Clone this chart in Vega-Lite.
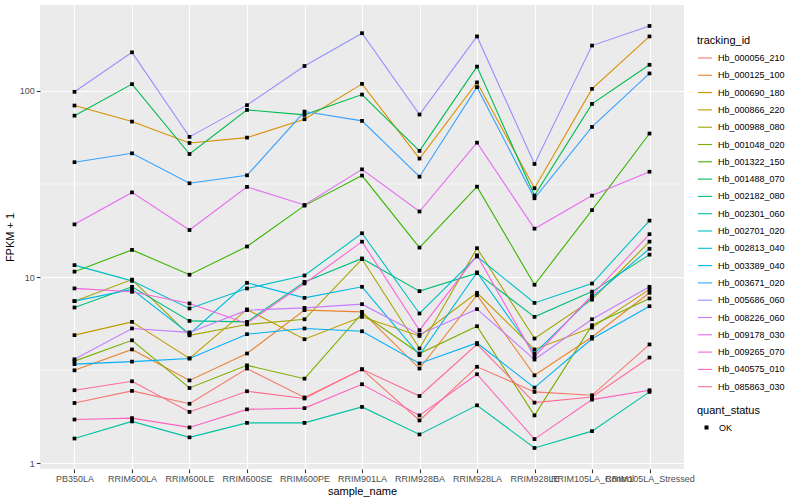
{
"$schema": "https://vega.github.io/schema/vega-lite/v6.json",
"width": 644, "height": 464,
"autosize": {"type": "none"},
"padding": {"left": 40, "top": 5, "right": 116, "bottom": 31},
"background": "white",
"config": {
 "font": "Liberation Sans",
 "view": {"fill": "#EBEBEB", "stroke": null},
 "axis": {"domain": false, "gridColor": "white", "gridWidth": 1.1, "tickColor": "#333333", "tickSize": 3.7, "tickWidth": 1.1, "labelColor": "#4D4D4D", "labelFontSize": 9, "titleFontSize": 11, "titleFontWeight": "normal", "titleColor": "black", "labelPadding": 2},
 "legend": {"titleFontSize": 11, "titleFontWeight": "normal", "titleColor": "black", "labelFontSize": 9, "labelColor": "black"}
},
"data": {"values": [
{"sample_name":"PB350LA","tracking_id":"Hb_000056_210","fpkm":2.11,"quant_status":"OK"},
{"sample_name":"RRIM600LA","tracking_id":"Hb_000056_210","fpkm":2.45,"quant_status":"OK"},
{"sample_name":"RRIM600LE","tracking_id":"Hb_000056_210","fpkm":2.09,"quant_status":"OK"},
{"sample_name":"RRIM600SE","tracking_id":"Hb_000056_210","fpkm":3.23,"quant_status":"OK"},
{"sample_name":"RRIM600PE","tracking_id":"Hb_000056_210","fpkm":2.26,"quant_status":"OK"},
{"sample_name":"RRIM901LA","tracking_id":"Hb_000056_210","fpkm":3.2,"quant_status":"OK"},
{"sample_name":"RRIM928BA","tracking_id":"Hb_000056_210","fpkm":1.70,"quant_status":"OK"},
{"sample_name":"RRIM928LA","tracking_id":"Hb_000056_210","fpkm":3.30,"quant_status":"OK"},
{"sample_name":"RRIM928LE","tracking_id":"Hb_000056_210","fpkm":2.42,"quant_status":"OK"},
{"sample_name":"RRIM105LA_Control","tracking_id":"Hb_000056_210","fpkm":2.32,"quant_status":"OK"},
{"sample_name":"RRIM105LA_Stressed","tracking_id":"Hb_000056_210","fpkm":4.35,"quant_status":"OK"},
{"sample_name":"PB350LA","tracking_id":"Hb_000125_100","fpkm":3.16,"quant_status":"OK"},
{"sample_name":"RRIM600LA","tracking_id":"Hb_000125_100","fpkm":4.09,"quant_status":"OK"},
{"sample_name":"RRIM600LE","tracking_id":"Hb_000125_100","fpkm":2.79,"quant_status":"OK"},
{"sample_name":"RRIM600SE","tracking_id":"Hb_000125_100","fpkm":3.89,"quant_status":"OK"},
{"sample_name":"RRIM600PE","tracking_id":"Hb_000125_100","fpkm":6.65,"quant_status":"OK"},
{"sample_name":"RRIM901LA","tracking_id":"Hb_000125_100","fpkm":6.51,"quant_status":"OK"},
{"sample_name":"RRIM928BA","tracking_id":"Hb_000125_100","fpkm":3.23,"quant_status":"OK"},
{"sample_name":"RRIM928LA","tracking_id":"Hb_000125_100","fpkm":8.0,"quant_status":"OK"},
{"sample_name":"RRIM928LE","tracking_id":"Hb_000125_100","fpkm":2.97,"quant_status":"OK"},
{"sample_name":"RRIM105LA_Control","tracking_id":"Hb_000125_100","fpkm":4.77,"quant_status":"OK"},
{"sample_name":"RRIM105LA_Stressed","tracking_id":"Hb_000125_100","fpkm":8.24,"quant_status":"OK"},
{"sample_name":"PB350LA","tracking_id":"Hb_000690_180","fpkm":83.4,"quant_status":"OK"},
{"sample_name":"RRIM600LA","tracking_id":"Hb_000690_180","fpkm":68.4,"quant_status":"OK"},
{"sample_name":"RRIM600LE","tracking_id":"Hb_000690_180","fpkm":52.5,"quant_status":"OK"},
{"sample_name":"RRIM600SE","tracking_id":"Hb_000690_180","fpkm":56.1,"quant_status":"OK"},
{"sample_name":"RRIM600PE","tracking_id":"Hb_000690_180","fpkm":70.4,"quant_status":"OK"},
{"sample_name":"RRIM901LA","tracking_id":"Hb_000690_180","fpkm":109,"quant_status":"OK"},
{"sample_name":"RRIM928BA","tracking_id":"Hb_000690_180","fpkm":43.3,"quant_status":"OK"},
{"sample_name":"RRIM928LA","tracking_id":"Hb_000690_180","fpkm":111,"quant_status":"OK"},
{"sample_name":"RRIM928LE","tracking_id":"Hb_000690_180","fpkm":30,"quant_status":"OK"},
{"sample_name":"RRIM105LA_Control","tracking_id":"Hb_000690_180","fpkm":102.5,"quant_status":"OK"},
{"sample_name":"RRIM105LA_Stressed","tracking_id":"Hb_000690_180","fpkm":196,"quant_status":"OK"},
{"sample_name":"PB350LA","tracking_id":"Hb_000866_220","fpkm":4.88,"quant_status":"OK"},
{"sample_name":"RRIM600LA","tracking_id":"Hb_000866_220","fpkm":5.75,"quant_status":"OK"},
{"sample_name":"RRIM600LE","tracking_id":"Hb_000866_220","fpkm":3.66,"quant_status":"OK"},
{"sample_name":"RRIM600SE","tracking_id":"Hb_000866_220","fpkm":6.71,"quant_status":"OK"},
{"sample_name":"RRIM600PE","tracking_id":"Hb_000866_220","fpkm":4.64,"quant_status":"OK"},
{"sample_name":"RRIM901LA","tracking_id":"Hb_000866_220","fpkm":6.12,"quant_status":"OK"},
{"sample_name":"RRIM928BA","tracking_id":"Hb_000866_220","fpkm":4.83,"quant_status":"OK"},
{"sample_name":"RRIM928LA","tracking_id":"Hb_000866_220","fpkm":8.24,"quant_status":"OK"},
{"sample_name":"RRIM928LE","tracking_id":"Hb_000866_220","fpkm":4.09,"quant_status":"OK"},
{"sample_name":"RRIM105LA_Control","tracking_id":"Hb_000866_220","fpkm":5.36,"quant_status":"OK"},
{"sample_name":"RRIM105LA_Stressed","tracking_id":"Hb_000866_220","fpkm":8.59,"quant_status":"OK"},
{"sample_name":"PB350LA","tracking_id":"Hb_000988_080","fpkm":7.43,"quant_status":"OK"},
{"sample_name":"RRIM600LA","tracking_id":"Hb_000988_080","fpkm":9.7,"quant_status":"OK"},
{"sample_name":"RRIM600LE","tracking_id":"Hb_000988_080","fpkm":4.87,"quant_status":"OK"},
{"sample_name":"RRIM600SE","tracking_id":"Hb_000988_080","fpkm":5.57,"quant_status":"OK"},
{"sample_name":"RRIM600PE","tracking_id":"Hb_000988_080","fpkm":5.94,"quant_status":"OK"},
{"sample_name":"RRIM901LA","tracking_id":"Hb_000988_080","fpkm":12.5,"quant_status":"OK"},
{"sample_name":"RRIM928BA","tracking_id":"Hb_000988_080","fpkm":4.14,"quant_status":"OK"},
{"sample_name":"RRIM928LA","tracking_id":"Hb_000988_080","fpkm":14.3,"quant_status":"OK"},
{"sample_name":"RRIM928LE","tracking_id":"Hb_000988_080","fpkm":4.68,"quant_status":"OK"},
{"sample_name":"RRIM105LA_Control","tracking_id":"Hb_000988_080","fpkm":7.57,"quant_status":"OK"},
{"sample_name":"RRIM105LA_Stressed","tracking_id":"Hb_000988_080","fpkm":15.5,"quant_status":"OK"},
{"sample_name":"PB350LA","tracking_id":"Hb_001048_020","fpkm":3.54,"quant_status":"OK"},
{"sample_name":"RRIM600LA","tracking_id":"Hb_001048_020","fpkm":4.58,"quant_status":"OK"},
{"sample_name":"RRIM600LE","tracking_id":"Hb_001048_020","fpkm":2.54,"quant_status":"OK"},
{"sample_name":"RRIM600SE","tracking_id":"Hb_001048_020","fpkm":3.36,"quant_status":"OK"},
{"sample_name":"RRIM600PE","tracking_id":"Hb_001048_020","fpkm":2.85,"quant_status":"OK"},
{"sample_name":"RRIM901LA","tracking_id":"Hb_001048_020","fpkm":6.38,"quant_status":"OK"},
{"sample_name":"RRIM928BA","tracking_id":"Hb_001048_020","fpkm":3.89,"quant_status":"OK"},
{"sample_name":"RRIM928LA","tracking_id":"Hb_001048_020","fpkm":5.45,"quant_status":"OK"},
{"sample_name":"RRIM928LE","tracking_id":"Hb_001048_020","fpkm":1.81,"quant_status":"OK"},
{"sample_name":"RRIM105LA_Control","tracking_id":"Hb_001048_020","fpkm":5.52,"quant_status":"OK"},
{"sample_name":"RRIM105LA_Stressed","tracking_id":"Hb_001048_020","fpkm":7.68,"quant_status":"OK"},
{"sample_name":"PB350LA","tracking_id":"Hb_001322_150","fpkm":10.7,"quant_status":"OK"},
{"sample_name":"RRIM600LA","tracking_id":"Hb_001322_150","fpkm":14.0,"quant_status":"OK"},
{"sample_name":"RRIM600LE","tracking_id":"Hb_001322_150","fpkm":10.3,"quant_status":"OK"},
{"sample_name":"RRIM600SE","tracking_id":"Hb_001322_150","fpkm":14.6,"quant_status":"OK"},
{"sample_name":"RRIM600PE","tracking_id":"Hb_001322_150","fpkm":24.2,"quant_status":"OK"},
{"sample_name":"RRIM901LA","tracking_id":"Hb_001322_150","fpkm":35.1,"quant_status":"OK"},
{"sample_name":"RRIM928BA","tracking_id":"Hb_001322_150","fpkm":14.4,"quant_status":"OK"},
{"sample_name":"RRIM928LA","tracking_id":"Hb_001322_150","fpkm":30.6,"quant_status":"OK"},
{"sample_name":"RRIM928LE","tracking_id":"Hb_001322_150","fpkm":9.1,"quant_status":"OK"},
{"sample_name":"RRIM105LA_Control","tracking_id":"Hb_001322_150","fpkm":22.9,"quant_status":"OK"},
{"sample_name":"RRIM105LA_Stressed","tracking_id":"Hb_001322_150","fpkm":59,"quant_status":"OK"},
{"sample_name":"PB350LA","tracking_id":"Hb_001488_070","fpkm":73.6,"quant_status":"OK"},
{"sample_name":"RRIM600LA","tracking_id":"Hb_001488_070","fpkm":108.7,"quant_status":"OK"},
{"sample_name":"RRIM600LE","tracking_id":"Hb_001488_070","fpkm":45.8,"quant_status":"OK"},
{"sample_name":"RRIM600SE","tracking_id":"Hb_001488_070","fpkm":79,"quant_status":"OK"},
{"sample_name":"RRIM600PE","tracking_id":"Hb_001488_070","fpkm":74.3,"quant_status":"OK"},
{"sample_name":"RRIM901LA","tracking_id":"Hb_001488_070","fpkm":95.5,"quant_status":"OK"},
{"sample_name":"RRIM928BA","tracking_id":"Hb_001488_070","fpkm":47.6,"quant_status":"OK"},
{"sample_name":"RRIM928LA","tracking_id":"Hb_001488_070","fpkm":135,"quant_status":"OK"},
{"sample_name":"RRIM928LE","tracking_id":"Hb_001488_070","fpkm":27.4,"quant_status":"OK"},
{"sample_name":"RRIM105LA_Control","tracking_id":"Hb_001488_070","fpkm":85.1,"quant_status":"OK"},
{"sample_name":"RRIM105LA_Stressed","tracking_id":"Hb_001488_070","fpkm":138,"quant_status":"OK"},
{"sample_name":"PB350LA","tracking_id":"Hb_002182_080","fpkm":6.87,"quant_status":"OK"},
{"sample_name":"RRIM600LA","tracking_id":"Hb_002182_080","fpkm":8.87,"quant_status":"OK"},
{"sample_name":"RRIM600LE","tracking_id":"Hb_002182_080","fpkm":5.82,"quant_status":"OK"},
{"sample_name":"RRIM600SE","tracking_id":"Hb_002182_080","fpkm":5.75,"quant_status":"OK"},
{"sample_name":"RRIM600PE","tracking_id":"Hb_002182_080","fpkm":9.43,"quant_status":"OK"},
{"sample_name":"RRIM901LA","tracking_id":"Hb_002182_080","fpkm":12.6,"quant_status":"OK"},
{"sample_name":"RRIM928BA","tracking_id":"Hb_002182_080","fpkm":8.41,"quant_status":"OK"},
{"sample_name":"RRIM928LA","tracking_id":"Hb_002182_080","fpkm":10.5,"quant_status":"OK"},
{"sample_name":"RRIM928LE","tracking_id":"Hb_002182_080","fpkm":6.12,"quant_status":"OK"},
{"sample_name":"RRIM105LA_Control","tracking_id":"Hb_002182_080","fpkm":8.36,"quant_status":"OK"},
{"sample_name":"RRIM105LA_Stressed","tracking_id":"Hb_002182_080","fpkm":13.2,"quant_status":"OK"},
{"sample_name":"PB350LA","tracking_id":"Hb_002301_060","fpkm":1.36,"quant_status":"OK"},
{"sample_name":"RRIM600LA","tracking_id":"Hb_002301_060","fpkm":1.68,"quant_status":"OK"},
{"sample_name":"RRIM600LE","tracking_id":"Hb_002301_060","fpkm":1.38,"quant_status":"OK"},
{"sample_name":"RRIM600SE","tracking_id":"Hb_002301_060","fpkm":1.65,"quant_status":"OK"},
{"sample_name":"RRIM600PE","tracking_id":"Hb_002301_060","fpkm":1.65,"quant_status":"OK"},
{"sample_name":"RRIM901LA","tracking_id":"Hb_002301_060","fpkm":2.01,"quant_status":"OK"},
{"sample_name":"RRIM928BA","tracking_id":"Hb_002301_060","fpkm":1.43,"quant_status":"OK"},
{"sample_name":"RRIM928LA","tracking_id":"Hb_002301_060","fpkm":2.05,"quant_status":"OK"},
{"sample_name":"RRIM928LE","tracking_id":"Hb_002301_060","fpkm":1.21,"quant_status":"OK"},
{"sample_name":"RRIM105LA_Control","tracking_id":"Hb_002301_060","fpkm":1.49,"quant_status":"OK"},
{"sample_name":"RRIM105LA_Stressed","tracking_id":"Hb_002301_060","fpkm":2.42,"quant_status":"OK"},
{"sample_name":"PB350LA","tracking_id":"Hb_002701_020","fpkm":11.6,"quant_status":"OK"},
{"sample_name":"RRIM600LA","tracking_id":"Hb_002701_020","fpkm":9.55,"quant_status":"OK"},
{"sample_name":"RRIM600LE","tracking_id":"Hb_002701_020","fpkm":6.79,"quant_status":"OK"},
{"sample_name":"RRIM600SE","tracking_id":"Hb_002701_020","fpkm":8.69,"quant_status":"OK"},
{"sample_name":"RRIM600PE","tracking_id":"Hb_002701_020","fpkm":10.2,"quant_status":"OK"},
{"sample_name":"RRIM901LA","tracking_id":"Hb_002701_020","fpkm":17.2,"quant_status":"OK"},
{"sample_name":"RRIM928BA","tracking_id":"Hb_002701_020","fpkm":6.38,"quant_status":"OK"},
{"sample_name":"RRIM928LA","tracking_id":"Hb_002701_020","fpkm":12.9,"quant_status":"OK"},
{"sample_name":"RRIM928LE","tracking_id":"Hb_002701_020","fpkm":7.27,"quant_status":"OK"},
{"sample_name":"RRIM105LA_Control","tracking_id":"Hb_002701_020","fpkm":9.24,"quant_status":"OK"},
{"sample_name":"RRIM105LA_Stressed","tracking_id":"Hb_002701_020","fpkm":20.1,"quant_status":"OK"},
{"sample_name":"PB350LA","tracking_id":"Hb_002813_040","fpkm":7.43,"quant_status":"OK"},
{"sample_name":"RRIM600LA","tracking_id":"Hb_002813_040","fpkm":8.59,"quant_status":"OK"},
{"sample_name":"RRIM600LE","tracking_id":"Hb_002813_040","fpkm":4.95,"quant_status":"OK"},
{"sample_name":"RRIM600SE","tracking_id":"Hb_002813_040","fpkm":9.32,"quant_status":"OK"},
{"sample_name":"RRIM600PE","tracking_id":"Hb_002813_040","fpkm":7.74,"quant_status":"OK"},
{"sample_name":"RRIM901LA","tracking_id":"Hb_002813_040","fpkm":8.87,"quant_status":"OK"},
{"sample_name":"RRIM928BA","tracking_id":"Hb_002813_040","fpkm":3.81,"quant_status":"OK"},
{"sample_name":"RRIM928LA","tracking_id":"Hb_002813_040","fpkm":10.6,"quant_status":"OK"},
{"sample_name":"RRIM928LE","tracking_id":"Hb_002813_040","fpkm":3.89,"quant_status":"OK"},
{"sample_name":"RRIM105LA_Control","tracking_id":"Hb_002813_040","fpkm":7.8,"quant_status":"OK"},
{"sample_name":"RRIM105LA_Stressed","tracking_id":"Hb_002813_040","fpkm":14.2,"quant_status":"OK"},
{"sample_name":"PB350LA","tracking_id":"Hb_003389_040","fpkm":3.41,"quant_status":"OK"},
{"sample_name":"RRIM600LA","tracking_id":"Hb_003389_040","fpkm":3.52,"quant_status":"OK"},
{"sample_name":"RRIM600LE","tracking_id":"Hb_003389_040","fpkm":3.66,"quant_status":"OK"},
{"sample_name":"RRIM600SE","tracking_id":"Hb_003389_040","fpkm":4.94,"quant_status":"OK"},
{"sample_name":"RRIM600PE","tracking_id":"Hb_003389_040","fpkm":5.30,"quant_status":"OK"},
{"sample_name":"RRIM901LA","tracking_id":"Hb_003389_040","fpkm":5.12,"quant_status":"OK"},
{"sample_name":"RRIM928BA","tracking_id":"Hb_003389_040","fpkm":3.44,"quant_status":"OK"},
{"sample_name":"RRIM928LA","tracking_id":"Hb_003389_040","fpkm":4.43,"quant_status":"OK"},
{"sample_name":"RRIM928LE","tracking_id":"Hb_003389_040","fpkm":2.55,"quant_status":"OK"},
{"sample_name":"RRIM105LA_Control","tracking_id":"Hb_003389_040","fpkm":4.67,"quant_status":"OK"},
{"sample_name":"RRIM105LA_Stressed","tracking_id":"Hb_003389_040","fpkm":6.98,"quant_status":"OK"},
{"sample_name":"PB350LA","tracking_id":"Hb_003671_020","fpkm":41.4,"quant_status":"OK"},
{"sample_name":"RRIM600LA","tracking_id":"Hb_003671_020","fpkm":46.2,"quant_status":"OK"},
{"sample_name":"RRIM600LE","tracking_id":"Hb_003671_020","fpkm":31.9,"quant_status":"OK"},
{"sample_name":"RRIM600SE","tracking_id":"Hb_003671_020","fpkm":35.2,"quant_status":"OK"},
{"sample_name":"RRIM600PE","tracking_id":"Hb_003671_020","fpkm":77.4,"quant_status":"OK"},
{"sample_name":"RRIM901LA","tracking_id":"Hb_003671_020","fpkm":69,"quant_status":"OK"},
{"sample_name":"RRIM928BA","tracking_id":"Hb_003671_020","fpkm":34.6,"quant_status":"OK"},
{"sample_name":"RRIM928LA","tracking_id":"Hb_003671_020","fpkm":104.7,"quant_status":"OK"},
{"sample_name":"RRIM928LE","tracking_id":"Hb_003671_020","fpkm":26.5,"quant_status":"OK"},
{"sample_name":"RRIM105LA_Control","tracking_id":"Hb_003671_020","fpkm":64,"quant_status":"OK"},
{"sample_name":"RRIM105LA_Stressed","tracking_id":"Hb_003671_020","fpkm":124,"quant_status":"OK"},
{"sample_name":"PB350LA","tracking_id":"Hb_005686_060","fpkm":98.8,"quant_status":"OK"},
{"sample_name":"RRIM600LA","tracking_id":"Hb_005686_060","fpkm":161,"quant_status":"OK"},
{"sample_name":"RRIM600LE","tracking_id":"Hb_005686_060","fpkm":56.6,"quant_status":"OK"},
{"sample_name":"RRIM600SE","tracking_id":"Hb_005686_060","fpkm":83.8,"quant_status":"OK"},
{"sample_name":"RRIM600PE","tracking_id":"Hb_005686_060","fpkm":136,"quant_status":"OK"},
{"sample_name":"RRIM901LA","tracking_id":"Hb_005686_060","fpkm":204,"quant_status":"OK"},
{"sample_name":"RRIM928BA","tracking_id":"Hb_005686_060","fpkm":74.6,"quant_status":"OK"},
{"sample_name":"RRIM928LA","tracking_id":"Hb_005686_060","fpkm":196,"quant_status":"OK"},
{"sample_name":"RRIM928LE","tracking_id":"Hb_005686_060","fpkm":40.5,"quant_status":"OK"},
{"sample_name":"RRIM105LA_Control","tracking_id":"Hb_005686_060","fpkm":175,"quant_status":"OK"},
{"sample_name":"RRIM105LA_Stressed","tracking_id":"Hb_005686_060","fpkm":223,"quant_status":"OK"},
{"sample_name":"PB350LA","tracking_id":"Hb_008226_060","fpkm":3.62,"quant_status":"OK"},
{"sample_name":"RRIM600LA","tracking_id":"Hb_008226_060","fpkm":5.30,"quant_status":"OK"},
{"sample_name":"RRIM600LE","tracking_id":"Hb_008226_060","fpkm":5.05,"quant_status":"OK"},
{"sample_name":"RRIM600SE","tracking_id":"Hb_008226_060","fpkm":6.65,"quant_status":"OK"},
{"sample_name":"RRIM600PE","tracking_id":"Hb_008226_060","fpkm":6.84,"quant_status":"OK"},
{"sample_name":"RRIM901LA","tracking_id":"Hb_008226_060","fpkm":7.16,"quant_status":"OK"},
{"sample_name":"RRIM928BA","tracking_id":"Hb_008226_060","fpkm":4.92,"quant_status":"OK"},
{"sample_name":"RRIM928LA","tracking_id":"Hb_008226_060","fpkm":6.73,"quant_status":"OK"},
{"sample_name":"RRIM928LE","tracking_id":"Hb_008226_060","fpkm":3.61,"quant_status":"OK"},
{"sample_name":"RRIM105LA_Control","tracking_id":"Hb_008226_060","fpkm":5.94,"quant_status":"OK"},
{"sample_name":"RRIM105LA_Stressed","tracking_id":"Hb_008226_060","fpkm":8.87,"quant_status":"OK"},
{"sample_name":"PB350LA","tracking_id":"Hb_009178_030","fpkm":19.2,"quant_status":"OK"},
{"sample_name":"RRIM600LA","tracking_id":"Hb_009178_030","fpkm":28.5,"quant_status":"OK"},
{"sample_name":"RRIM600LE","tracking_id":"Hb_009178_030","fpkm":17.9,"quant_status":"OK"},
{"sample_name":"RRIM600SE","tracking_id":"Hb_009178_030","fpkm":30.5,"quant_status":"OK"},
{"sample_name":"RRIM600PE","tracking_id":"Hb_009178_030","fpkm":24.4,"quant_status":"OK"},
{"sample_name":"RRIM901LA","tracking_id":"Hb_009178_030","fpkm":37.9,"quant_status":"OK"},
{"sample_name":"RRIM928BA","tracking_id":"Hb_009178_030","fpkm":22.5,"quant_status":"OK"},
{"sample_name":"RRIM928LA","tracking_id":"Hb_009178_030","fpkm":52.7,"quant_status":"OK"},
{"sample_name":"RRIM928LE","tracking_id":"Hb_009178_030","fpkm":18.2,"quant_status":"OK"},
{"sample_name":"RRIM105LA_Control","tracking_id":"Hb_009178_030","fpkm":27.4,"quant_status":"OK"},
{"sample_name":"RRIM105LA_Stressed","tracking_id":"Hb_009178_030","fpkm":36.8,"quant_status":"OK"},
{"sample_name":"PB350LA","tracking_id":"Hb_009265_070","fpkm":8.7,"quant_status":"OK"},
{"sample_name":"RRIM600LA","tracking_id":"Hb_009265_070","fpkm":8.34,"quant_status":"OK"},
{"sample_name":"RRIM600LE","tracking_id":"Hb_009265_070","fpkm":7.22,"quant_status":"OK"},
{"sample_name":"RRIM600SE","tracking_id":"Hb_009265_070","fpkm":5.64,"quant_status":"OK"},
{"sample_name":"RRIM600PE","tracking_id":"Hb_009265_070","fpkm":9.25,"quant_status":"OK"},
{"sample_name":"RRIM901LA","tracking_id":"Hb_009265_070","fpkm":15.5,"quant_status":"OK"},
{"sample_name":"RRIM928BA","tracking_id":"Hb_009265_070","fpkm":5.19,"quant_status":"OK"},
{"sample_name":"RRIM928LA","tracking_id":"Hb_009265_070","fpkm":13.1,"quant_status":"OK"},
{"sample_name":"RRIM928LE","tracking_id":"Hb_009265_070","fpkm":3.75,"quant_status":"OK"},
{"sample_name":"RRIM105LA_Control","tracking_id":"Hb_009265_070","fpkm":8.0,"quant_status":"OK"},
{"sample_name":"RRIM105LA_Stressed","tracking_id":"Hb_009265_070","fpkm":17.0,"quant_status":"OK"},
{"sample_name":"PB350LA","tracking_id":"Hb_040575_010","fpkm":1.72,"quant_status":"OK"},
{"sample_name":"RRIM600LA","tracking_id":"Hb_040575_010","fpkm":1.75,"quant_status":"OK"},
{"sample_name":"RRIM600LE","tracking_id":"Hb_040575_010","fpkm":1.56,"quant_status":"OK"},
{"sample_name":"RRIM600SE","tracking_id":"Hb_040575_010","fpkm":1.95,"quant_status":"OK"},
{"sample_name":"RRIM600PE","tracking_id":"Hb_040575_010","fpkm":1.98,"quant_status":"OK"},
{"sample_name":"RRIM901LA","tracking_id":"Hb_040575_010","fpkm":2.66,"quant_status":"OK"},
{"sample_name":"RRIM928BA","tracking_id":"Hb_040575_010","fpkm":1.81,"quant_status":"OK"},
{"sample_name":"RRIM928LA","tracking_id":"Hb_040575_010","fpkm":3.01,"quant_status":"OK"},
{"sample_name":"RRIM928LE","tracking_id":"Hb_040575_010","fpkm":1.35,"quant_status":"OK"},
{"sample_name":"RRIM105LA_Control","tracking_id":"Hb_040575_010","fpkm":2.2,"quant_status":"OK"},
{"sample_name":"RRIM105LA_Stressed","tracking_id":"Hb_040575_010","fpkm":2.47,"quant_status":"OK"},
{"sample_name":"PB350LA","tracking_id":"Hb_085863_030","fpkm":2.47,"quant_status":"OK"},
{"sample_name":"RRIM600LA","tracking_id":"Hb_085863_030","fpkm":2.76,"quant_status":"OK"},
{"sample_name":"RRIM600LE","tracking_id":"Hb_085863_030","fpkm":1.89,"quant_status":"OK"},
{"sample_name":"RRIM600SE","tracking_id":"Hb_085863_030","fpkm":2.44,"quant_status":"OK"},
{"sample_name":"RRIM600PE","tracking_id":"Hb_085863_030","fpkm":2.23,"quant_status":"OK"},
{"sample_name":"RRIM901LA","tracking_id":"Hb_085863_030","fpkm":3.2,"quant_status":"OK"},
{"sample_name":"RRIM928BA","tracking_id":"Hb_085863_030","fpkm":2.30,"quant_status":"OK"},
{"sample_name":"RRIM928LA","tracking_id":"Hb_085863_030","fpkm":4.36,"quant_status":"OK"},
{"sample_name":"RRIM928LE","tracking_id":"Hb_085863_030","fpkm":2.12,"quant_status":"OK"},
{"sample_name":"RRIM105LA_Control","tracking_id":"Hb_085863_030","fpkm":2.27,"quant_status":"OK"},
{"sample_name":"RRIM105LA_Stressed","tracking_id":"Hb_085863_030","fpkm":3.70,"quant_status":"OK"}
]},
"layer": [
 {"data": {"values": [{"minor": 3.1623}, {"minor": 31.623}]},
  "mark": {"type": "rule", "color": "white", "strokeWidth": 0.55},
  "encoding": {"y": {"field": "minor", "type": "quantitative", "scale": {"type": "log", "domain": [0.933, 289], "nice": false},
     "axis": {"title": "FPKM + 1", "values": [1, 10, 100], "format": "d", "grid": true, "titlePadding": 4}}}},
 {"mark": {"type": "line", "strokeWidth": 1.1},
  "encoding": {
   "x": {"field": "sample_name", "type": "ordinal", "sort": ["PB350LA","RRIM600LA","RRIM600LE","RRIM600SE","RRIM600PE","RRIM901LA","RRIM928BA","RRIM928LA","RRIM928LE","RRIM105LA_Control","RRIM105LA_Stressed"], "scale": {"type": "point", "padding": 0.6},
     "axis": {"title": "sample_name", "labelAngle": 0, "labelOverlap": false, "labelBound": false, "grid": true, "labelPadding": 1.5, "titlePadding": 2, "labelLimit": 0}},
   "y": {"field": "fpkm", "type": "quantitative", "scale": {"type": "log", "domain": [0.933, 289], "nice": false},
     "axis": {"title": "FPKM + 1", "values": [1, 10, 100], "format": "d", "grid": true, "titlePadding": 4}},
   "color": {"field": "tracking_id", "type": "nominal",
     "scale": {"domain": ["Hb_000056_210","Hb_000125_100","Hb_000690_180","Hb_000866_220","Hb_000988_080","Hb_001048_020","Hb_001322_150","Hb_001488_070","Hb_002182_080","Hb_002301_060","Hb_002701_020","Hb_002813_040","Hb_003389_040","Hb_003671_020","Hb_005686_060","Hb_008226_060","Hb_009178_030","Hb_009265_070","Hb_040575_010","Hb_085863_030"],
       "range": ["#F8766D","#EA8331","#D89000","#C09B00","#A3A500","#7CAE00","#39B600","#00BB4E","#00BF7D","#00C1A3","#00BFC4","#00BAE0","#00B0F6","#35A2FF","#9590FF","#C77CFF","#E76BF3","#FA62DB","#FF62BC","#FF6C91"]},
     "legend": {"title": "tracking_id", "orient": "none", "legendX": 657, "legendY": 30, "symbolType": "stroke", "symbolSize": 200, "symbolStrokeWidth": 1.1, "rowPadding": 4.3, "labelOffset": 5, "titlePadding": 4}},
   "order": {"value": null}
  }},
 {"mark": {"type": "point", "filled": true, "size": 14, "opacity": 1},
  "encoding": {
   "x": {"field": "sample_name", "type": "ordinal", "sort": ["PB350LA","RRIM600LA","RRIM600LE","RRIM600SE","RRIM600PE","RRIM901LA","RRIM928BA","RRIM928LA","RRIM928LE","RRIM105LA_Control","RRIM105LA_Stressed"]},
   "y": {"field": "fpkm", "type": "quantitative"},
   "color": {"value": "black"},
   "shape": {"field": "quant_status", "type": "nominal", "scale": {"range": ["square"]},
     "legend": {"title": "quant_status", "orient": "none", "legendX": 657, "legendY": 400, "symbolSize": 16, "symbolOffset": 5, "symbolFillColor": "black", "symbolStrokeColor": "black", "labelOffset": 8, "titlePadding": 7}}
  }}
]
}
